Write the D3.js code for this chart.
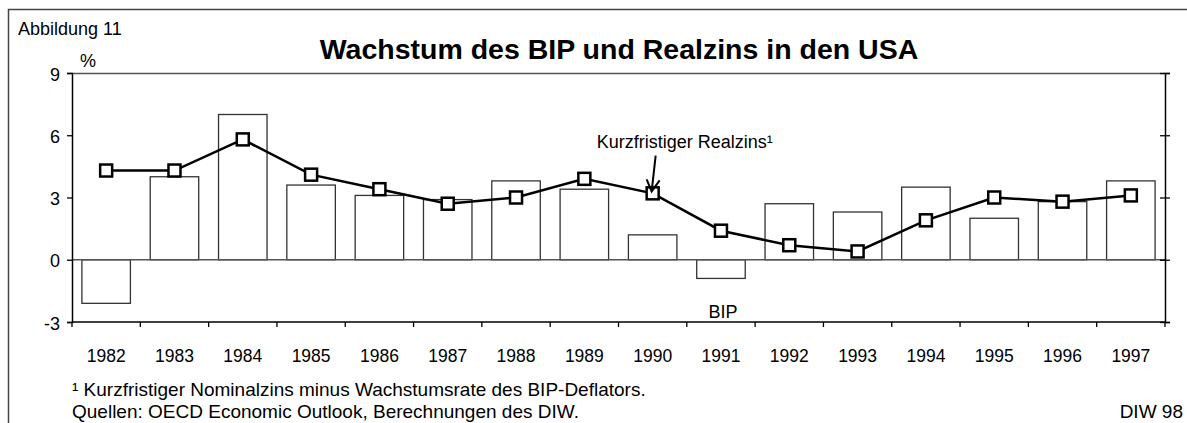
<!DOCTYPE html>
<html>
  <head>
    <meta charset="utf-8">
    <title>Wachstum des BIP und Realzins in den USA</title>
    <style>
      body { margin: 0; background: #fff; }
      text { font-family: "Liberation Sans", Arial, sans-serif; fill: #000; }
    </style>
  </head>
  <body>
    <svg width="1187" height="423"></svg>
    <script src="https://d3js.org/d3.v7.min.js"></script>
    <script>

    // data
    var years = ["1982", "1983", "1984", "1985", "1986", "1987", "1988", "1989",
                 "1990", "1991", "1992", "1993", "1994", "1995", "1996", "1997"];
    var bip = [-2.1, 4.0, 7.0, 3.6, 3.1, 2.9, 3.8, 3.4, 1.2, -0.9, 2.7, 2.3, 3.5, 2.0, 2.8, 3.8];
    var realzins = [4.3, 4.3, 5.8, 4.1, 3.4, 2.7, 3.0, 3.9, 3.2, 1.4, 0.7, 0.4, 1.9, 3.0, 2.8, 3.1];
    var yTicks = [-3, 0, 3, 6, 9];

    var svg = d3.select("svg"),
        margin = {top: 73, right: 22, bottom: 101, left: 72},
        width = +svg.attr("width") - margin.left - margin.right,
        height = +svg.attr("height") - margin.top - margin.bottom;

    // outer frame (only left and top edges are visible)
    svg.append("path")
        .attr("d", "M8.5,423V9.5H1187")
        .attr("fill", "none")
        .attr("stroke", "#444")
        .attr("stroke-width", 1.5);

    svg.append("text")
        .attr("x", 18).attr("y", 35)
        .style("font-size", "18px")
        .text("Abbildung 11");

    svg.append("text")
        .attr("x", 619).attr("y", 59)
        .attr("text-anchor", "middle")
        .style("font-size", "28.5px")
        .style("font-weight", "bold")
        .text("Wachstum des BIP und Realzins in den USA");

    var g = svg.append("g")
        .attr("transform", "translate(" + margin.left + "," + margin.top + ")");

    var x = d3.scaleBand()
        .domain(years)
        .range([0, width])
        .paddingInner(0.29)
        .paddingOuter(0.145);

    var y = d3.scaleLinear()
        .domain([-3, 9])
        .range([height, 0]);

    var step = x.step();

    // top border of plot
    g.append("line")
        .attr("x1", 0).attr("x2", width)
        .attr("y1", 0.5).attr("y2", 0.5)
        .attr("stroke", "#555").attr("stroke-width", 1.3);

    // bars
    g.selectAll(".bar")
      .data(bip)
      .enter().append("rect")
        .attr("class", "bar")
        .attr("x", function(d, i) { return x(years[i]); })
        .attr("width", x.bandwidth())
        .attr("y", function(d) { return y(Math.max(0, d)); })
        .attr("height", function(d) { return Math.abs(y(d) - y(0)); })
        .attr("fill", "#fff")
        .attr("stroke", "#333")
        .attr("stroke-width", 1.3);

    // zero line
    g.append("line")
        .attr("x1", 0).attr("x2", width)
        .attr("y1", y(0)).attr("y2", y(0))
        .attr("stroke", "#555").attr("stroke-width", 1.3);

    // left axis
    var yAxis = g.append("g")
        .call(d3.axisLeft(y).tickValues(yTicks).tickSize(5).tickPadding(7)
                .tickFormat(function(d) { return String(d); }));
    yAxis.select(".domain").attr("stroke", "#000").attr("stroke-width", 1.5);
    yAxis.selectAll(".tick line").attr("stroke", "#000").attr("stroke-width", 1.3);
    yAxis.selectAll("text")
        .style("font-size", "18px")
        .style("font-family", "'Liberation Sans', Arial, sans-serif")
        .attr("dy", "0.4em");

    // right axis, ticks crossing the line
    var yAxisR = g.append("g")
        .attr("transform", "translate(" + width + ",0)")
        .call(d3.axisRight(y).tickValues(yTicks).tickSize(5).tickFormat(""));
    yAxisR.select(".domain").attr("stroke", "#000").attr("stroke-width", 1.5);
    yAxisR.selectAll(".tick line").attr("x1", -5).attr("stroke", "#000").attr("stroke-width", 1.3);

    // bottom axis: ticks at category boundaries
    g.append("line")
        .attr("x1", 0).attr("x2", width)
        .attr("y1", height).attr("y2", height)
        .attr("stroke", "#000").attr("stroke-width", 1.5);

    g.selectAll(".xtick")
      .data(d3.range(years.length + 1))
      .enter().append("line")
        .attr("class", "xtick")
        .attr("x1", function(i) { return i * step; })
        .attr("x2", function(i) { return i * step; })
        .attr("y1", height).attr("y2", height + 5)
        .attr("stroke", "#000").attr("stroke-width", 1.3);

    g.selectAll(".xlabel")
      .data(years)
      .enter().append("text")
        .attr("class", "xlabel")
        .attr("x", function(d) { return x(d) + x.bandwidth() / 2; })
        .attr("y", height + 40)
        .attr("text-anchor", "middle")
        .style("font-size", "17.5px")
        .text(function(d) { return d; });

    g.append("text")
        .attr("x", 8).attr("y", -6)
        .style("font-size", "18px")
        .text("%");

    // Realzins line
    var line = d3.line()
        .x(function(d, i) { return x(years[i]) + x.bandwidth() / 2; })
        .y(function(d) { return y(d); });

    g.append("path")
        .attr("d", line(realzins))
        .attr("fill", "none")
        .attr("stroke", "#000")
        .attr("stroke-width", 2.5);

    var ms = 12;
    g.selectAll(".marker")
      .data(realzins)
      .enter().append("rect")
        .attr("class", "marker")
        .attr("x", function(d, i) { return x(years[i]) + x.bandwidth() / 2 - ms / 2; })
        .attr("y", function(d) { return y(d) - ms / 2; })
        .attr("width", ms).attr("height", ms)
        .attr("fill", "#fff")
        .attr("stroke", "#000")
        .attr("stroke-width", 2.5);

    // annotations
    var cx90 = x("1990") + x.bandwidth() / 2,
        cx91 = x("1991") + x.bandwidth() / 2;

    g.append("text")
        .attr("x", cx90 + 32).attr("y", y(5.4))
        .attr("text-anchor", "middle")
        .style("font-size", "18px")
        .text("Kurzfristiger Realzins\u00b9");

    var tipX = cx90 - 1, tipY = y(realzins[8]) - 2;
    g.append("path")
        .attr("d", "M" + (tipX + 4) + "," + (y(5.4) + 8) + "L" + tipX + "," + tipY +
                   "M" + (tipX - 5) + "," + (tipY - 12) + "L" + tipX + "," + tipY +
                   "L" + (tipX + 8) + "," + (tipY - 11))
        .attr("fill", "none")
        .attr("stroke", "#000")
        .attr("stroke-width", 2);

    g.append("text")
        .attr("x", cx91 + 2).attr("y", y(-2.8))
        .attr("text-anchor", "middle")
        .style("font-size", "18px")
        .text("BIP");

    // footnotes
    svg.append("text")
        .attr("x", 72).attr("y", 396)
        .style("font-size", "19px")
        .text("\u00b9 Kurzfristiger Nominalzins minus Wachstumsrate des BIP-Deflators.");

    svg.append("text")
        .attr("x", 72).attr("y", 418)
        .style("font-size", "19px")
        .text("Quellen: OECD Economic Outlook, Berechnungen des DIW.");

    svg.append("text")
        .attr("x", 1183).attr("y", 418)
        .attr("text-anchor", "end")
        .style("font-size", "19px")
        .text("DIW 98");

    </script>
  </body>
</html>
